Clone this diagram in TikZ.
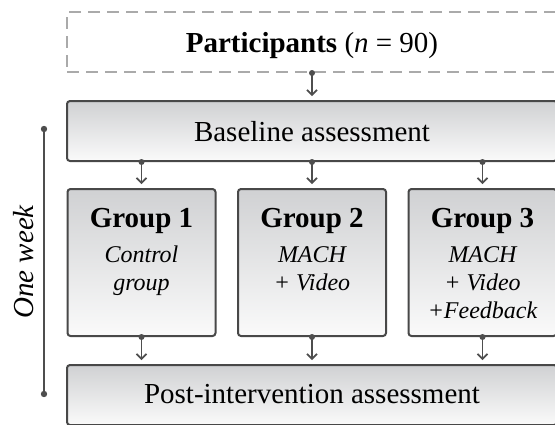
\documentclass[tikz,border=0pt]{standalone}
\usepackage{fontspec}
\setmainfont{Liberation Serif}
\usetikzlibrary{arrows.meta}
\definecolor{edgecol}{RGB}{72,72,72}
\definecolor{conncol}{RGB}{78,78,78}
\definecolor{dashcol}{RGB}{170,170,170}
\definecolor{shadetop}{RGB}{208,209,211}
\definecolor{shadebot}{RGB}{250,250,250}
\begin{document}
\begin{tikzpicture}[x=1pt,y=-1pt,
  box/.style={draw=edgecol, line width=2pt, rounded corners=3pt,
    top color=shadetop, bottom color=shadebot, inner sep=0pt},
  widebox/.style={box, minimum width=490pt, minimum height=60pt},
  grpbox/.style={box, minimum width=148pt, minimum height=147pt},
  dashbox/.style={draw=dashcol, line width=2pt, dash pattern=on 12pt off 7pt,
    minimum width=490pt, minimum height=60pt, inner sep=0pt},
  maintext/.style={font=\fontsize{29}{34}\selectfont, inner sep=0pt, anchor=base},
  subtext/.style={font=\fontsize{24}{28}\selectfont\itshape, inner sep=0pt, anchor=base},
  conn/.style={draw=conncol, line width=1.6pt,
    -{Straight Barb[length=5pt,width=10pt,line width=1.6pt]}, shorten >=4pt},
  dotc/.style={fill=conncol},
  timeline/.style={draw=conncol, line width=2pt}]
\useasboundingbox (0,0) rectangle (555,424);
\clip (0,0) rectangle (555,424);

% boxes
\node[dashbox] (part) at (312,42) {};
\node[widebox] (bl) at (312,131) {};
\node[grpbox] (g1) at (141.5,262.5) {};
\node[grpbox] (g2) at (312,262.5) {};
\node[grpbox] (g3) at (482.5,262.5) {};
\node[widebox] (post) at (312,395) {};

% texts
\node[maintext] (partt) at (312,52) {\textbf{Participants} (\textit{n} = 90)};
\node[maintext] (blt) at (312,141) {Baseline assessment};
\node[maintext] (postt) at (312,403) {Post-intervention assessment};

\node[maintext] (g1t) at (141.5,227) {\textbf{Group 1}};
\node[subtext] (g1a) at (141.5,262) {Control};
\node[subtext] (g1b) at (141.5,290) {group};

\node[maintext] (g2t) at (312,227) {\textbf{Group 2}};
\node[subtext] (g2a) at (312,262) {MACH};
\node[subtext] (g2b) at (312,290) {+ Video};

\node[maintext] (g3t) at (482.5,227) {\textbf{Group 3}};
\node[subtext] (g3a) at (482.5,262) {MACH};
\node[subtext] (g3b) at (482.5,290) {+ Video};
\node[subtext] (g3c) at (482.5,318) {+Feedback};

% time line
\coordinate (tltop) at (44,129);
\coordinate (tlbot) at (44,394);
\draw[timeline] (tltop) -- (tlbot);
\fill[dotc] (tltop) circle (3.2pt);
\fill[dotc] (tlbot) circle (3.2pt);
\node[maintext, font=\fontsize{29}{34}\selectfont\itshape, rotate=90] (week) at (34,262) {One week};

% connectors
\draw[conn] (part.south) -- (bl.north);
\draw[conn] (bl.south -| g1.north) -- (g1.north);
\draw[conn] (bl.south -| g2.north) -- (g2.north);
\draw[conn] (bl.south -| g3.north) -- (g3.north);
\draw[conn] (g1.south) -- (post.north -| g1.south);
\draw[conn] (g2.south) -- (post.north -| g2.south);
\draw[conn] (g3.south) -- (post.north -| g3.south);

\fill[dotc] (part.south) circle (3pt);
\fill[dotc] (bl.south -| g1.north) circle (3pt);
\fill[dotc] (bl.south -| g2.north) circle (3pt);
\fill[dotc] (bl.south -| g3.north) circle (3pt);
\fill[dotc] (g1.south) circle (3pt);
\fill[dotc] (g2.south) circle (3pt);
\fill[dotc] (g3.south) circle (3pt);
\end{tikzpicture}
\end{document}
